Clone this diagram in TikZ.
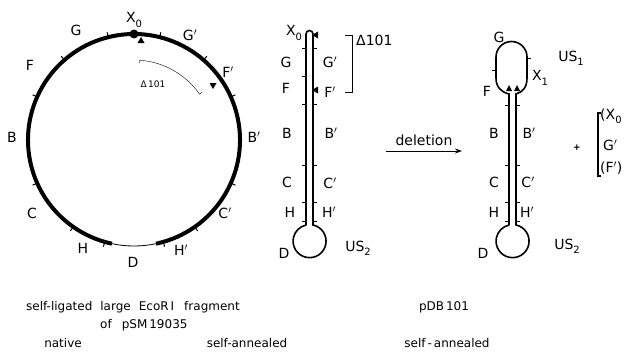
\documentclass[tikz,border=0pt]{standalone}
\usepackage{fontspec}
\setmainfont{DejaVu Sans}
\usetikzlibrary{arrows.meta,positioning}
\newcommand{\lowidx}[1]{\raisebox{-0.55ex}{\fontsize{10}{10}\selectfont #1}}
\tikzset{
strand/.style={line width=1.6pt},
fatstrand/.style={line width=4pt},
thinstrand/.style={line width=0.8pt},
nick/.style={line width=1pt},
arr/.style={-{Stealth[length=7pt,width=5pt]},line width=1pt},
caption/.style={font=\fontsize{12}{14}\selectfont},
small/.style={font=\fontsize{9}{11}\selectfont},
}
\tikzstyle{every node}=[font=\fontsize{14}{16}\selectfont, inner sep=1pt]

\begin{document}
\begin{tikzpicture}[x=1pt,y=-1pt]
\useasboundingbox (0,0) rectangle (631,356);

% native circle
\begin{scope}[shift={(134,140)},yscale=-1]
  \draw[fatstrand] (282:106) arc[start angle=282,end angle=618,radius=106];
  \draw[thinstrand] (258:106) arc[start angle=258,end angle=282,radius=106];
  \foreach \a in {104,131,156,204,235,254,76,49,24,-24,-55,-74}
    \draw[nick] (\a:106) -- (\a:111);
  \fill (90:106) circle (4.5);
  \draw[thin] (86:77) -- (86:80) arc[start angle=86,end angle=35,radius=80] -- (35:83);
\end{scope}
\fill (141,37) -- (137.5,43) -- (144.5,43) -- cycle;
\fill (209.5,83) -- (216.5,83) -- (213,89) -- cycle;
\node[small] (cdel) at (153,84) {Δ\,101};

\node (cX) at (134,20) {X\lowidx{0}};
\node (cG) at (76,30) {G};
\node (cGp) at (190,35) {G$'$};
\node (cF) at (30,65) {F};
\node (cFp) at (228,72) {F$'$};
\node (cB) at (12,137) {B};
\node (cBp) at (254,137) {B$'$};
\node (cC) at (32,213) {C};
\node (cCp) at (225,213) {C$'$};
\node (cH) at (83,248) {H};
\node (cHp) at (181,250) {H$'$};
\node (cD) at (133,262) {D};

% self-annealed hairpin
\draw[strand] (306,225) -- (306,34) arc[start angle=180,end angle=360,radius=3.5]
    -- (313,225) arc[start angle=-78,end angle=258,radius=16.5];
\foreach \y in {48,76,104,165,202,221}
  \draw[nick] (306,\y) -- (302,\y);
\foreach \y in {48,104,165,202,221}
  \draw[nick] (313,\y) -- (317,\y);
\fill (312,35) -- (318,31.5) -- (318,38.5) -- cycle;
\fill (312,90) -- (318,86.5) -- (318,93.5) -- cycle;
\draw[thin] (345,35) -- (352,35) -- (352,92) -- (345,92);
\node[anchor=west] (hdel) at (355,40) {Δ101};

\node (hX) at (294,33) {X\lowidx{0}};
\node (hG) at (286,62) {G};
\node (hF) at (286,88) {F};
\node (hB) at (287,133) {B};
\node (hC) at (287,182) {C};
\node (hH) at (290,212) {H};
\node (hGp) at (330,62) {G$'$};
\node (hFp) at (330,92) {F$'$};
\node (hBp) at (331,133) {B$'$};
\node (hCp) at (330,183) {C$'$};
\node (hHp) at (329,212) {H$'$};
\node (hD) at (284,253) {D};
\node (hUS) at (358,248) {US\lowidx{2}};

% deletion
\coordinate (delS) at (386,151);
\coordinate (delE) at (462,151);
\draw[arr] (delS) -- (delE) node[midway, above=4pt] {deletion};

% pDB101 hairpin
\draw[strand] (509,225) -- (509,94) .. controls (501,92) and (496,87) .. (496,78)
    -- (496,57) arc[start angle=180,end angle=360,radius=15.5]
    -- (527,78) .. controls (527,87) and (523,92) .. (516,94)
    -- (516,225) arc[start angle=-78,end angle=258,radius=16.5];
\foreach \y in {105,165,202,221}{
  \draw[nick] (509,\y) -- (505,\y);
  \draw[nick] (516,\y) -- (520,\y);
}
\draw[nick] (496,70) -- (492,70);
\draw[nick] (527,58) -- (531,58);
\fill (509,85) -- (506,91) -- (512,91) -- cycle;
\fill (517,85) -- (514,91) -- (520,91) -- cycle;

\node (pG) at (499,37) {G};
\node (pUS) at (571,58) {US\lowidx{1}};
\node (pX) at (540,78) {X\lowidx{1}};
\node (pF) at (487,91) {F};
\node (pB) at (494,133) {B};
\node (pC) at (494,182) {C};
\node (pH) at (494,212) {H};
\node (pBp) at (529,133) {B$'$};
\node (pCp) at (528,182) {C$'$};
\node (pHp) at (527,212) {H$'$};
\node (pD) at (483,253) {D};
\node (pUS2) at (567,246) {US\lowidx{2}};

% excised piece
\node[small] (plus) at (577,148) {\textbf{+}};
\draw[line width=1.8pt] (601,113) -- (598,113) -- (598,176) -- (601,176);
\node[anchor=west] (eX) at (599,116) {(X\lowidx{0}};
\node[anchor=west] (eG) at (602,145) {G$'$};
\node[anchor=west] (eF) at (599,168) {(F$'$)};

% captions
\node[caption, anchor=west] (t1) at (25,307) {self-ligated\hspace{8pt}large\hspace{8pt}EcoR\,I\hspace{10pt}fragment};
\node[caption, anchor=west] (t2) at (99,325) {of\hspace{10pt}pSM\,19035};
\node[caption] (t3) at (63,343) {native};
\node[caption] (t4) at (247,343) {self-annealed};
\node[caption] (t5) at (444,307) {pDB\,101};
\node[caption] (t6) at (447,343) {self\,-\,annealed};
\end{tikzpicture}
\end{document}
